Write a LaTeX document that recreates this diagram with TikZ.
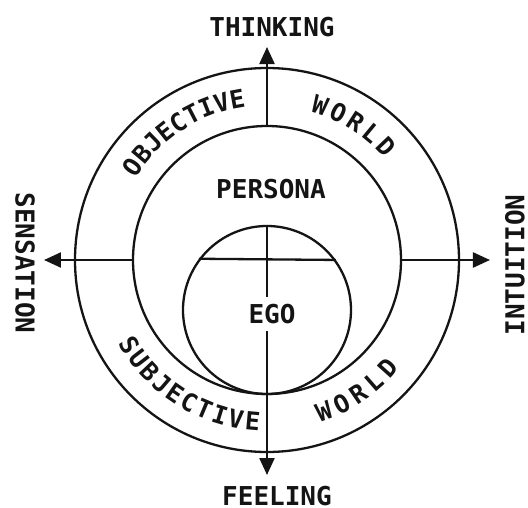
\documentclass[tikz,border=0pt]{standalone}
\usepackage{fontspec}
\usepackage{tikz}
\usetikzlibrary{arrows.meta,positioning}
\newfontfamily\letterfont{DejaVu Sans Mono}
\definecolor{JungInk}{HTML}{141414}
\definecolor{JungPaper}{HTML}{FFFFFF}
\tikzset{
  psylabel/.style={font=\letterfont\bfseries\fontsize{26}{26}\selectfont, text=JungInk, inner sep=0pt},
  ringletter/.style={font=\letterfont\bfseries\fontsize{25}{25}\selectfont, text=JungInk, inner sep=0pt},
  psyring/.style={circle, draw=JungInk, line width=2.3pt, inner sep=0pt},
  psyaxis/.style={line width=2.3pt, draw=JungInk},
  psyarrow/.style={psyaxis, -{Triangle[length=17pt,width=15pt]}}
}

\begin{document}
\begin{tikzpicture}[x=1pt, y=1pt]
\useasboundingbox[fill=JungPaper] (-267,-247) rectangle (261,260);
\node[psyring, minimum size=384pt] (worldring) at (0,0) {};
\node[psyring, minimum size=268pt] (personaring) at (0,0) {};
\node[psyring, minimum size=168pt] (egoring) at (0,-50) {};
\node[psylabel] (thinking) at (5,233) {THINKING};
\node[psylabel] (feeling) at (10,-236) {FEELING};
\node[psylabel, rotate=-90] (sensation) at (-242,-3) {SENSATION};
\node[psylabel, rotate=90] (intuition) at (248,-5) {INTUITION};
\node[psylabel] (personatext) at (4,71) {PERSONA};
\node[psylabel, inner ysep=7pt] (egotext) at (5,-54) {EGO};
\coordinate (tipN) at (0,213);
\coordinate (tipS) at (0,-215);
\coordinate (tipW) at (-223,0);
\coordinate (tipE) at (223,0);
\draw[psyarrow] (personaring.north) -- (tipN);
\draw[psyarrow] (personaring.west) -- (tipW);
\draw[psyarrow] (personaring.east) -- (tipE);
\draw[psyaxis] (egoring.north) -- (egoring.north |- egotext.north);
\draw[psyarrow] (egoring.north |- egotext.south) -- (tipS);
\draw[psyaxis] (egoring.143.5) -- (egoring.36.5);
\foreach \ch [count=\i from 0] in {O,B,J,E,C,T,I,V,E}
  \node[ringletter, rotate={145.3-5.6*\i-90}] (objective\i) at ({145.3-5.6*\i}:164) {\ch};
\foreach \ch [count=\i from 0] in {W,O,R,L,D}
  \node[ringletter, rotate={71.1-6.9*\i-90}] (upperworld\i) at ({71.1-6.9*\i}:164) {\ch};
\foreach \ch [count=\i from 0] in {S,U,B,J,E,C,T,I,V,E}
  \node[ringletter, rotate={211.8+5.9*\i+90}] (subjective\i) at ({211.8+5.9*\i}:162) {\ch};
\foreach \ch [count=\i from 0] in {W,O,R,L,D}
  \node[ringletter, rotate={290.5+6.9*\i+90}] (lowerworld\i) at ({290.5+6.9*\i}:162) {\ch};
\end{tikzpicture}
\end{document}
